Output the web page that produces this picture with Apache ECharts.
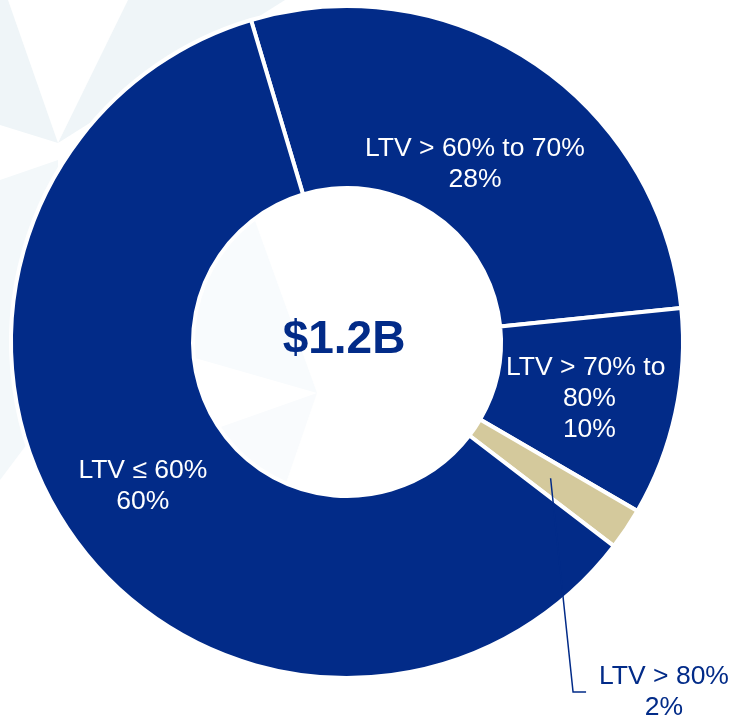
<!DOCTYPE html>
<html>
<head>
<meta charset="utf-8">
<title>LTV distribution</title>
<script src="https://cdn.jsdelivr.net/npm/echarts@6/dist/echarts.min.js"></script>
<style>
  html, body { margin: 0; padding: 0; background: #ffffff; }
  #chart { width: 732px; height: 719px; }
</style>
</head>
<body>
<div id="chart"></div>
<script>
// Loan-to-value buckets, drawn clockwise from the top
const categories = ['LTV > 60% to 70%', 'LTV > 70% to 80%', 'LTV > 80%', 'LTV ≤ 60%'];
const shares = [28, 10, 2, 60];
const sliceColors = ['#022B88', '#022B88', '#D4C99C', '#022B88'];
const totalLabel = '$1.2B';

const NAVY = '#022B88';
const FONT = '"Liberation Sans", Arial, Helvetica, sans-serif';
const CENTER = [347, 342];
const RADIUS = [154, 336];
const START = 106.6;
const OUTSIDE_INDEX = 2;

const chart = echarts.init(document.getElementById('chart'), null, { renderer: 'canvas' });

// Faint star-like backdrop shapes
const decor = [
  { pts: [[0, 0], [8, 0], [58, 143], [0, 125]], fill: '#EFF5F8' },
  { pts: [[128, 0], [285, 0], [58, 143]], fill: '#EFF5F8' },
  { pts: [[0, 180], [58, 160], [60, 400], [0, 480]], fill: '#F3F8FA' },
  { pts: [[317, 393], [236, 168], [127, 203], [153, 346]], fill: '#F8FBFD' },
  { pts: [[317, 393], [181, 441], [187, 523], [275, 515]], fill: '#F9FBFD' }
];

// Per-slice nudges of the in-ring labels
const labelShift = [[-10, 28], [0, 4], null, [0, 3]];

const ringData = categories.map((name, i) => {
  const item = { name: name, value: shares[i], itemStyle: { color: sliceColors[i] } };
  if (i === 1) item.label = { width: 180, overflow: 'break' };
  if (i === OUTSIDE_INDEX) item.label = { show: false };
  return item;
});

// Transparent copy of the ring that only carries the callout of the small slice
const calloutData = categories.map((name, i) => {
  const item = { name: name, value: shares[i] };
  if (i === OUTSIDE_INDEX) {
    item.label = { show: true };
    item.labelLine = { show: true };
  }
  return item;
});

function midRingPoint(idx) {
  const lay = chart.getModel().getSeriesByIndex(0).getData().getItemLayout(idx);
  const mid = (lay.startAngle + lay.endAngle) / 2;
  const rm = (lay.r + lay.r0) / 2;
  return [lay.cx + rm * Math.cos(mid), lay.cy + rm * Math.sin(mid)];
}

const labelText = p => p.name + '\n' + p.value + '%';

const option = {
  backgroundColor: '#ffffff',
  animation: false,
  graphic: decor.map(d => ({
    type: 'polygon',
    z: 0,
    silent: true,
    shape: { points: d.pts },
    style: { fill: d.fill }
  })).concat([{
    type: 'text',
    z: 10,
    x: 344,
    y: 340,
    silent: true,
    style: {
      text: totalLabel,
      fill: NAVY,
      font: 'bold 46px ' + FONT,
      align: 'center',
      verticalAlign: 'middle'
    }
  }]),
  series: [{
    type: 'pie',
    z: 2,
    center: CENTER,
    radius: RADIUS,
    startAngle: START,
    clockwise: true,
    avoidLabelOverlap: false,
    silent: true,
    emphasis: { disabled: true },
    itemStyle: { borderColor: '#ffffff', borderWidth: 4 },
    label: {
      show: true,
      position: 'inside',
      color: '#ffffff',
      fontFamily: FONT,
      fontSize: 26.5,
      lineHeight: 31,
      align: 'center',
      formatter: labelText
    },
    labelLine: { show: false },
    labelLayout: function (params) {
      const s = labelShift[params.dataIndex];
      return s ? { dx: s[0], dy: s[1] } : {};
    },
    data: ringData
  }, {
    type: 'pie',
    z: 5,
    center: CENTER,
    radius: RADIUS,
    startAngle: START,
    clockwise: true,
    avoidLabelOverlap: false,
    silent: true,
    emphasis: { disabled: true },
    itemStyle: { color: 'rgba(0,0,0,0)', borderWidth: 0 },
    label: {
      show: false,
      position: 'outside',
      color: NAVY,
      fontFamily: FONT,
      fontSize: 26.5,
      lineHeight: 31,
      align: 'center',
      formatter: labelText
    },
    labelLine: { show: false, lineStyle: { color: NAVY, width: 1.5 } },
    labelLayout: function (params) {
      if (params.dataIndex !== OUTSIDE_INDEX) return {};
      const lx = 664, ly = 692;
      const w = params.labelRect.width;
      const endX = lx - w / 2 - 13;
      let start;
      try { start = midRingPoint(OUTSIDE_INDEX); }
      catch (e) { start = params.labelLinePoints ? params.labelLinePoints[0] : [lx - 110, ly - 212]; }
      return {
        x: lx,
        y: ly,
        align: 'center',
        verticalAlign: 'middle',
        labelLinePoints: [start, [endX - 13, ly], [endX, ly]]
      };
    },
    data: calloutData
  }]
};

chart.setOption(option);
</script>
</body>
</html>
